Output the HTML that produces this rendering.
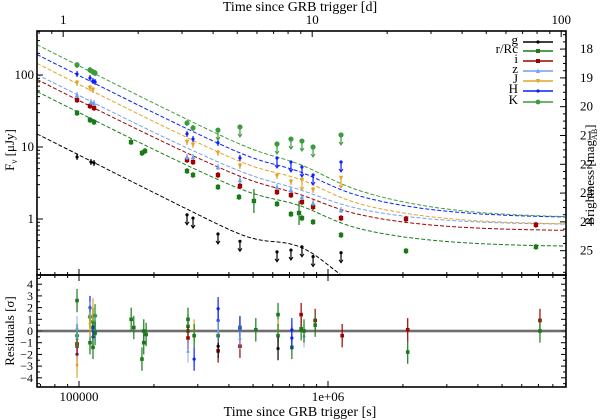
<!DOCTYPE html>
<html><head><meta charset="utf-8">
<style>
html,body{margin:0;padding:0;background:#fff;}
svg{display:block;font-family:"Liberation Serif",serif;}
</style></head>
<body>
<svg id="chart" width="600" height="420" viewBox="0 0 600 420">
</svg>
<script>
// ---- data ----
const bands = ['g','r','i','z','J','H','K'];
const bandLabels = ['g','r/Rc','i','z','J','H','K'];
const bandColors = ['#000000','#1a7a1a','#a00000','#6fa0ef','#e3a32c','#0a1eff','#3c9c3c'];
const tG = [98200,111700,114900,271500,287000,361500,443000,624000,710000,786000,871000,1128000];
const fG = [7.27,6.19,5.99,1.14,1.03,0.62,0.49,0.35,0.37,0.41,0.30,0.34];
const limG = [0,0,0,1,1,1,1,1,1,1,1,1];
const tR = [98200,110700,114900,161800,179100,184100,271500,287000,361500,439000,504000,624000,710000,765000,786000,871000,1128000,2057000,6840000];
const fR = [29.7,23.7,22.2,11.7,8.25,8.8,4.64,4.08,2.78,2.02,1.78,1.62,1.17,1.21,1.03,0.91,0.60,0.36,0.41];
const limR = [0,0,0,0,0,0,0,0,0,0,0,0,0,0,0,0,0,0,0];
const tI = [98200,110700,114900,271500,287000,361500,443000,624000,710000,786000,871000,1128000,2057000,6840000];
const fI = [45.0,37.1,34.8,6.60,6.19,4.08,2.87,2.37,2.15,1.72,1.47,1.03,1.0,0.83];
const limI = [0,0,0,0,0,0,0,0,0,0,0,0,0,0];
const tZ = [98200,111700,114900,271500,287000,361500,443000,624000,710000,786000,871000,1128000];
const fZ = [52.7,42.2,40.8,7.27,7.27,5.27,3.48,2.78,2.53,2.02,1.67,1.33];
const limZ = [0,0,0,0,0,0,0,0,0,0,0,0];
const tJ = [98200,110700,113800,271500,287000,361500,443000,624000,710000,786000,871000,1128000];
const fJ = [77.4,66.0,61.9,11.7,10.7,8.25,5.45,3.96,3.27,3.48,2.53,3.71];
const limJ = [0,0,0,0,0,0,0,0,0,1,0,1];
const tH = [98200,110700,113800,116000,271500,287000,361500,443000,624000,710000,786000,871000,1128000];
const fH = [103.2,90.9,82.5,79.9,15.2,12.9,11.4,7.03,7.03,6.19,5.27,4.08,6.19];
const limH = [0,0,0,0,0,0,0,0,1,1,1,1,1];
const tK = [98200,110700,113800,116000,271500,287000,361500,443000,624000,710000,786000,871000,1128000];
const fK = [137.7,117.3,110.1,106.6,21.5,18.4,17.2,19.0,11.0,12.9,12.1,10.0,14.7];
const limK = [0,0,0,0,0,0,1,1,1,1,1,1,1];
// model parameters per band: afterglow amplitude at 1e5 s, bump amplitude, host flux
const modelAmp = [7.7,29.6,43.5,51,73,97,133];
const modelBump = [0.17,0.3,0.3,0.3,0.7,0.8,1.0];
const modelHost = [0.03,0.41,0.68,0.83,0.83,1.03,1.03];
const decayIndex = 1.75;
// residuals
const resT = [98200,98200,98200,98200,98200,98200,98200,98200,110700,110700,110700,110700,110700,113800,113800,113800,113800,113800,116000,116000,116000,162000,166000,179000,182000,182000,186000,274000,274000,274000,274000,274000,290000,290000,290000,362000,362000,362000,362000,362000,362000,443000,443000,443000,443000,513000,630000,630000,630000,630000,716000,716000,716000,780000,780000,801000,801000,888000,888000,1140000,2090000,2090000,7100000,7100000];
const resV = [2.6,-1.3,-0.6,-2.0,-3.0,-1.1,-0.4,0.3,1.2,2.0,1.5,-1.0,0.5,0.8,0.3,-0.5,1.8,-1.4,1.3,0.2,-0.2,1.0,0.3,-2.4,-1.0,0.0,-0.3,1.0,0.4,0.0,-0.6,-1.7,0.0,-0.4,-2.4,1.9,0.9,-0.4,-1.7,-1.3,0.0,0.3,-1.3,0.2,-0.6,0.1,1.4,0.0,-0.4,-1.5,-1.4,0.1,-0.6,0.2,1.4,-0.4,0.0,0.9,0.5,-0.4,0.1,-1.8,0.9,0.0];
const resB = [1,1,3,5,4,2,6,3,6,5,3,1,4,6,1,5,4,1,6,3,1,1,1,1,1,1,1,1,1,1,2,3,4,1,5,5,5,1,2,0,3,1,2,5,3,1,1,4,1,0,1,5,5,1,2,3,1,2,1,2,2,1,2,1];
const magTicks = [18,19,20,21,22,23,24,25];
const fluxTicks = [1,10,100];
const dayTicks = [1,10,100];
const secTicks = [100000,1000000];
const secTickLabels = ['100000','1e+06'];
const resTicks = [4,3,2,1,0,-1,-2,-3,-4];

// ---- axes ----
const L=37, R=566, T=31, B=275, RB=387;
const X0=79, DEC=249;
function x(t){return X0+DEC*Math.log10(t/1e5);}
function y(f){return 147-72*Math.log10(f/10);}
const RZ=331, RU=11.7;
function yr(v){return RZ-RU*v;}
const svg=document.getElementById('chart');
const NS='http://www.w3.org/2000/svg';
function el(tag,attrs,parent){const e=document.createElementNS(NS,tag);for(const k in attrs)e.setAttribute(k,attrs[k]);(parent||svg).appendChild(e);return e;}
function model(b,t){const lt=Math.log10(t);return modelAmp[b]*Math.pow(t/1e5,-decayIndex)+modelBump[b]*Math.exp(-0.5*Math.pow((lt-5.86)/0.1,2))+modelHost[b];}

const defs=el('defs',{});
const cp=el('clipPath',{id:'clipMain'},defs);el('rect',{x:L,y:T,width:R-L,height:B-T},cp);
const cp2=el('clipPath',{id:'clipRes'},defs);el('rect',{x:L,y:B,width:R-L,height:RB-B},cp2);

// model curves
const gModels=el('g',{'clip-path':'url(#clipMain)'});


for(let b=0;b<7;b++){
  let d='';
  for(let px=L;px<=R;px+=2){const t=1e5*Math.pow(10,(px-X0)/DEC);d+=(px===L?'M':'L')+px+','+y(model(b,t)).toFixed(1);}
  const p=el('path',{d:d,fill:'none',stroke:bandColors[b],'stroke-width':1,'stroke-dasharray':'4,2'},gModels);
  
  
}

function marker(b,cx,cy,parent,sz){
  const c=bandColors[b];sz=sz||2.2;let m;
  if(b===1||b===2){m=el('rect',{x:cx-sz,y:cy-sz,width:2*sz,height:2*sz,fill:c},parent);}
  else if(b===3){m=el('path',{d:`M${cx},${cy-sz-0.5}L${cx+sz},${cy+sz}L${cx-sz},${cy+sz}Z`,fill:c},parent);}
  else if(b===4){m=el('path',{d:`M${cx-sz},${cy-sz}L${cx+sz},${cy-sz}L${cx},${cy+sz+0.5}Z`,fill:c},parent);}
  else if(b===6){m=el('circle',{cx:cx,cy:cy,r:sz+0.4,fill:c},parent);}
  else {m=el('circle',{cx:cx,cy:cy,r:1.6,fill:c},parent);}
  return m;
}
const dataT=[tG,tR,tI,tZ,tJ,tH,tK], dataF=[fG,fR,fI,fZ,fJ,fH,fK], dataL=[limG,limR,limI,limZ,limJ,limH,limK];
const gPts=el('g',{'clip-path':'url(#clipMain)'});


for(let b=0;b<7;b++){
  const gb=el('g',{},gPts);
  
  
  for(let k=0;k<dataT[b].length;k++){
    const cx=x(dataT[b][k]),cy=y(dataF[b][k]),c=bandColors[b];
    if(dataL[b][k]){
      el('line',{x1:cx,y1:cy,x2:cx,y2:cy+9,stroke:c,'stroke-width':1.2},gb);
      el('path',{d:`M${cx-2},${cy+7}L${cx},${cy+10}L${cx+2},${cy+7}`,fill:'none',stroke:c,'stroke-width':1},gb);
    } else {
      const e=(b===1&&(k===10||k===13))?12:3;
      el('line',{x1:cx,y1:cy-e,x2:cx,y2:cy+e,stroke:c,'stroke-width':1.2},gb);
    }
    const m=marker(b,cx,cy,gb);
    
    
  }
}

// residuals
el('line',{x1:L,y1:yr(0),x2:R,y2:yr(0),stroke:'#aaa','stroke-width':3});
el('line',{x1:L,y1:yr(0),x2:R,y2:yr(0),stroke:'#333','stroke-width':1});
const gRes=el('g',{'clip-path':'url(#clipRes)'});


for(let k=0;k<resT.length;k++){
  const b=resB[k],cx=x(resT[k]),cy=yr(resV[k]),c=bandColors[b];
  el('line',{x1:cx,y1:cy-RU*1.0,x2:cx,y2:cy+RU*1.0,stroke:c,'stroke-width':b===6?2:1.2,opacity:b===6||b===3?0.7:1},gRes);
  const m=marker(b,cx,cy,gRes,1.8);
  
  
}

// ticks
const gAx=el('g',{stroke:'#000','stroke-width':1});


function vt(px,y0,len){el('line',{x1:px,y1:y0,x2:px,y2:y0+len},gAx);}
function ht(py,x0,len){el('line',{x1:x0,y1:py,x2:x0+len,y2:py},gAx);}
// bottom seconds ticks (main bottom, residual top & bottom)
for(let e=4;e<=7;e++)for(let m=1;m<10;m++){const t=m*Math.pow(10,e),px=x(t);if(px<L||px>R)continue;const len=m===1?6:3;vt(px,B,-len);vt(px,B,len);vt(px,RB,-len);}
// top days ticks
for(let e=-1;e<=2;e++)for(let m=1;m<10;m++){const d=m*Math.pow(10,e),px=x(d*86400);if(px<L||px>R)continue;vt(px,T,m===1?6:3);}
// left flux ticks
for(let e=-1;e<=2;e++)for(let m=1;m<10;m++){const f=m*Math.pow(10,e),py=y(f);if(py<T||py>B)continue;ht(py,L,m===1?6:3);}
// right mag ticks
for(let m=17.5;m<=25.9;m+=0.25){const f=Math.pow(10,(23.9-m)/2.5),py=y(f);if(py<T||py>B)continue;const maj=Math.abs(m-Math.round(m))<0.01;ht(py,R,maj?-6:-3);}
// residual y ticks
for(let v=-4.5;v<=4.5;v+=0.5){const py=yr(v);if(py<B||py>RB)continue;const maj=Math.abs(v-Math.round(v))<0.01;ht(py,L,maj?5:3);ht(py,R,maj?-5:-3);}

// frames
const fr=el('rect',{x:L,y:T,width:R-L,height:B-T,fill:'none',stroke:'#000','stroke-width':1.6});

const fr2=el('rect',{x:L,y:B,width:R-L,height:RB-B,fill:'none',stroke:'#000','stroke-width':1.6});


// tick labels
function txt(s,px,py,anchor,size,name){const t=el('text',{x:px,y:py,'text-anchor':anchor||'middle','font-size':size||13,fill:'#000'});t.textContent=s;return t;}
for(let k=0;k<secTicks.length;k++)txt(secTickLabels[k],x(secTicks[k]),401,'middle',13,'x-tick-label');
for(const d of dayTicks)txt(String(d),x(d*86400),24,'middle',13,'top-x-tick-label');
for(const f of fluxTicks)txt(String(f),34,y(f)+4,'end',13,'y-tick-label');
for(const m of magTicks)txt(String(m),580,y(Math.pow(10,(23.9-m)/2.5))+4,'start',13,'mag-tick-label');
for(const v of resTicks)txt(v<0?'−'+(-v):String(v),33,yr(v)+4,'end',12,'residual-tick-label');

// axis titles
txt('Time since GRB trigger [s]',300,416,'middle',14,'x-axis-title');
txt('Time since GRB trigger [d]',300,11,'middle',14,'top-x-axis-title');
const yt=txt('',14,150,'middle',13,'y-axis-title');yt.setAttribute('transform','rotate(-90 14 150)');
yt.innerHTML='F<tspan font-size="9" dy="3">ν</tspan><tspan dy="-3"> [μJy]</tspan>';
const rt=txt('Residuals [σ]',14,331,'middle',13,'residual-axis-title');rt.setAttribute('transform','rotate(-90 14 331)');
const mt=txt('',594,175,'middle',13,'mag-axis-title');mt.setAttribute('transform','rotate(-90 594 175)');
mt.innerHTML='Brightness [mag<tspan font-size="8" dy="3">AB</tspan><tspan dy="-3">]</tspan>';

// legend
const lg=el('g',{});


const legY=[42,51,61,71,81,91,102];
for(let b=0;b<7;b++){
  const ge=el('g',{},lg);
  
  
  const t=el('text',{x:518,y:legY[b]+2,'text-anchor':'end','font-size':13,fill:'#000'},ge);
  t.textContent=bandLabels[b];
  el('line',{x1:523,y1:legY[b],x2:553,y2:legY[b],stroke:bandColors[b],'stroke-width':1.4},ge);
  marker(b,538,legY[b],ge,2);
}
</script>
</body></html>
